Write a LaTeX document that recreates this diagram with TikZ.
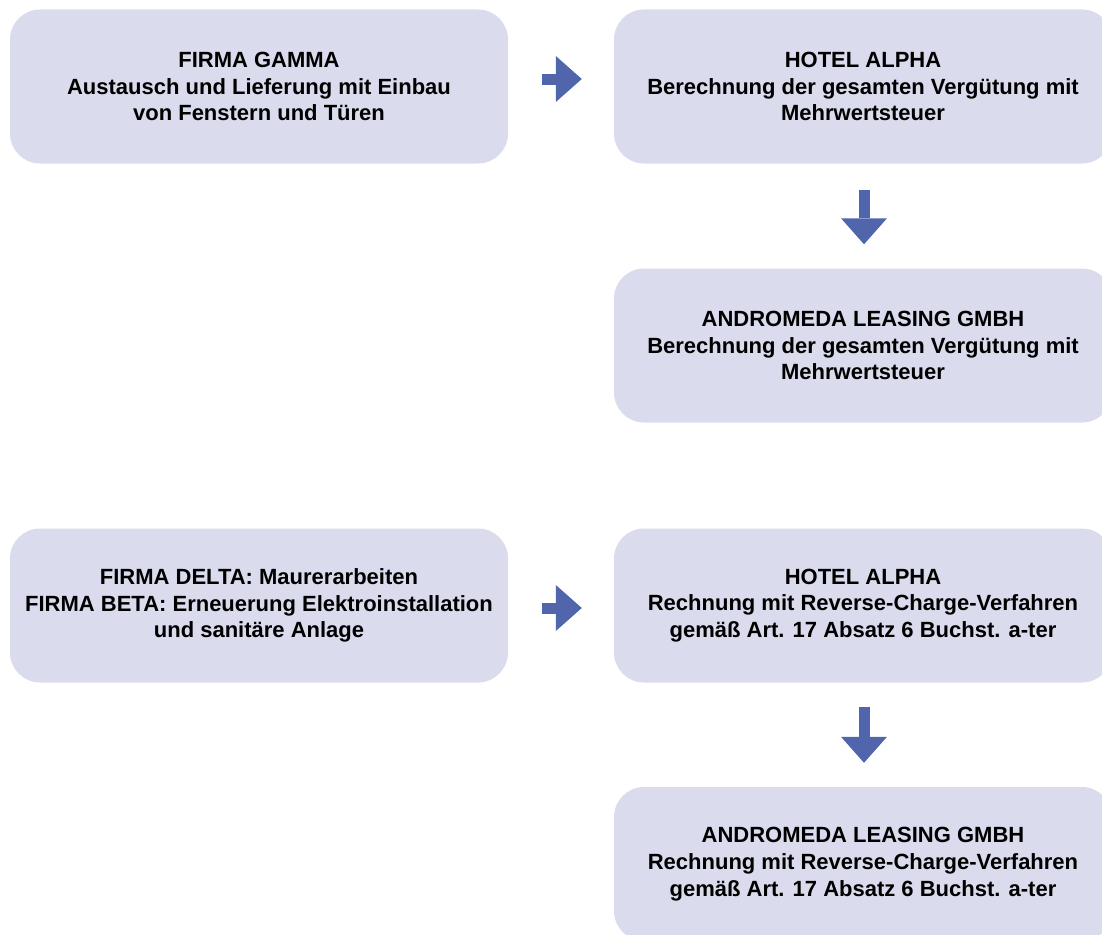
\documentclass[tikz,border=0pt]{standalone}
\usepackage{fontspec}
\setmainfont{Liberation Sans}
\usetikzlibrary{arrows.meta}
\definecolor{boxfill}{HTML}{DADCED}
\definecolor{arrowblue}{HTML}{5065AC}
\tikzset{
  box/.style={fill=boxfill, rounded corners=30pt, minimum width=498pt, minimum height=154pt,
    align=center, inner sep=0pt, font=\fontsize{22}{26.7}\selectfont\bfseries},
  blockarrow/.style={arrowblue, line width=11pt,
    -{Triangle[length=26pt, width=46pt, line width=0pt]}}
}
\begin{document}
\begin{tikzpicture}[x=1pt, y=-1pt]
    \useasboundingbox (0,0) rectangle (1102,934);
%    \draw[help lines, step=50] (0,0) grid (1102,934);
    \node[box] (gamma) at (259,86.5) {FIRMA GAMMA\\Austausch und Lieferung mit Einbau\\von Fenstern und Türen};
    \node[box] (alphaA) at (863,86.5) {HOTEL ALPHA\\Berechnung der gesamten Vergütung mit\\Mehrwertsteuer};
   \node[box] (andromedaA) at (863,345.5) {ANDROMEDA LEASING GMBH\\Berechnung der gesamten Vergütung mit\\Mehrwertsteuer};
    \node[box] (delta) at (259,605.5) {FIRMA DELTA: Maurerarbeiten\\FIRMA BETA: Erneuerung Elektroinstallation\\und sanitäre Anlage};
    \node[box] (alphaB) at (863,605.5) {HOTEL ALPHA\\Rechnung mit Reverse-Charge-Verfahren\\gemäß Art. 17 Absatz 6 Buchst. a-ter};
   \node[box] (andromedaB) at (863,864) {ANDROMEDA LEASING GMBH\\Rechnung mit Reverse-Charge-Verfahren\\gemäß Art. 17 Absatz 6 Buchst. a-ter};
    \draw[blockarrow] ([shift={(34,-7.5)}]gamma.east) -- ([shift={(-32,-7.5)}]alphaA.west);
    \draw[blockarrow] ([shift={(1,26)}]alphaA.south) -- ([shift={(1,-24)}]andromedaA.north);
  \draw[blockarrow] ([shift={(34,2.5)}]delta.east) -- ([shift={(-32,2.5)}]alphaB.west);
    \draw[blockarrow] ([shift={(1,24)}]alphaB.south) -- ([shift={(1,-24)}]andromedaB.north);
   \end{tikzpicture}
\end{document}
